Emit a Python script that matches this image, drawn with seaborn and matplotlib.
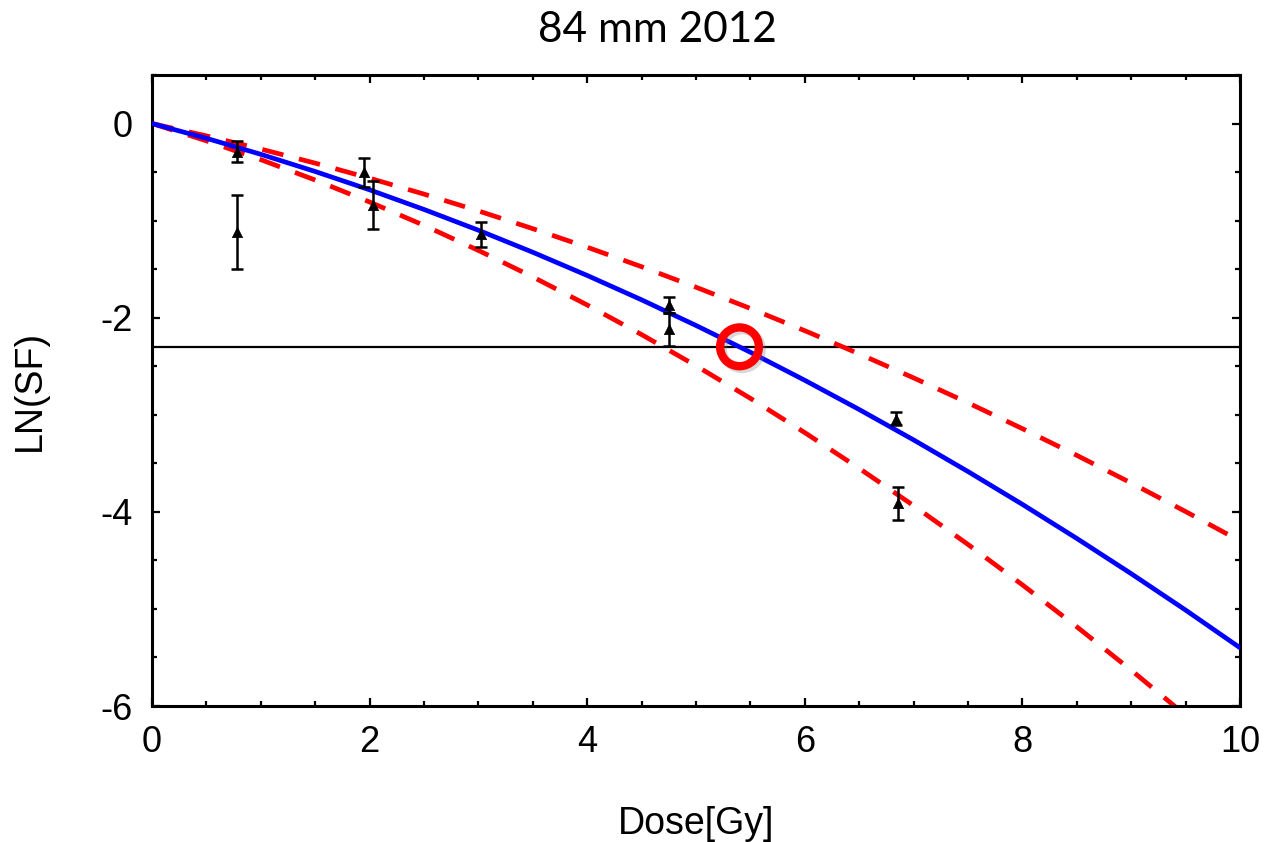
import numpy as np
import pandas as pd
import matplotlib
matplotlib.use("Agg")
import matplotlib.pyplot as plt
import matplotlib.patheffects as pe
from matplotlib.ticker import MultipleLocator
import seaborn as sns

# ---- data ----
dose_grid = [0, 0.5, 1, 1.5, 2, 2.5, 3, 3.5, 4, 4.5, 5, 5.5, 6, 6.5, 7, 7.5, 8, 8.5, 9, 9.5, 10]
fit_mid = [0, -0.152, -0.317, -0.494, -0.683, -0.885, -1.099, -1.326, -1.565, -1.816, -2.080,
           -2.356, -2.645, -2.946, -3.259, -3.585, -3.923, -4.274, -4.637, -5.012, -5.400]
fit_upper = [0, -0.127, -0.263, -0.408, -0.563, -0.727, -0.900, -1.083, -1.274, -1.475, -1.686,
             -1.905, -2.134, -2.373, -2.620, -2.877, -3.143, -3.418, -3.703, -3.997, -4.300]
fit_lower = [0, -0.178, -0.372, -0.582, -0.808, -1.049, -1.307, -1.580, -1.869, -2.174, -2.495,
             -2.831, -3.184, -3.552, -3.936, -4.336, -4.752, -5.184, -5.631, -6.095, -6.574]

pt_dose = [0.78, 0.78, 1.95, 2.03, 3.02, 4.75, 4.75, 6.84, 6.86]
pt_lnsf = [-0.29, -1.12, -0.50, -0.84, -1.14, -1.87, -2.12, -3.04, -3.91]
pt_err = [0.11, 0.38, 0.15, 0.25, 0.13, 0.08, 0.17, 0.07, 0.17]

level = -2.3
mark_dose = [5.4]
mark_lnsf = [-2.3]

title = "84 mm 2012"
xlabel = "Dose[Gy]"
ylabel = "LN(SF)"
xticks = [0, 2, 4, 6, 8, 10]
yticks = [0, -2, -4, -6]

# ---- plotting ----
sns.set_style("ticks")
plt.rcParams["font.family"] = ["Liberation Sans", "DejaVu Sans"]
plt.rcParams["text.color"] = "black"

fig = plt.figure(figsize=(12.64, 8.42), dpi=100)
ax = fig.add_axes([152 / 1264, 1 - 706 / 842, (1240 - 152) / 1264, (706 - 75) / 842])

curves = pd.DataFrame({"dose": dose_grid, "mid": fit_mid, "upper": fit_upper, "lower": fit_lower})

ax.axhline(level, color="black", lw=1.6, zorder=1.5)

sns.lineplot(data=curves, x="dose", y="upper", ax=ax, color="#ff0000", lw=3.4, zorder=2)
sns.lineplot(data=curves, x="dose", y="lower", ax=ax, color="#ff0000", lw=3.4, zorder=2)
for ln in ax.lines[1:3]:
    ln.set_dashes((4.6, 3.4))
sns.lineplot(data=curves, x="dose", y="mid", ax=ax, color="#0000ff", lw=3.4, zorder=3)

ax.errorbar(pt_dose, pt_lnsf, yerr=pt_err, fmt="none", ecolor="black", elinewidth=1.8,
            capsize=4, capthick=1.8, zorder=4)
sns.scatterplot(x=pt_dose, y=pt_lnsf, ax=ax, marker="^", color="black", s=55,
                edgecolor="black", linewidth=0.5, zorder=5)

sc = ax.scatter(mark_dose, mark_lnsf, s=780, facecolors="none", edgecolors="#ff0000",
                linewidths=6, zorder=6)
sc.set_path_effects([pe.SimpleLineShadow(offset=(2, -2), alpha=0.3, shadow_color="gray"),
                     pe.Normal()])

ax.set_xlim(0, 10)
ax.set_ylim(-6, 0.5)
ax.set_xticks(xticks)
ax.set_yticks(yticks)
ax.set_xticklabels([str(t) for t in xticks])
ax.set_yticklabels([str(t) for t in yticks])
ax.xaxis.set_minor_locator(MultipleLocator(0.5))
ax.yaxis.set_minor_locator(MultipleLocator(0.5))
ax.tick_params(which="both", direction="in", top=True, right=True, width=1.6, color="black",
               labelcolor="black")
ax.tick_params(which="major", length=6, labelsize=26, pad=14)
ax.tick_params(axis="y", which="major", pad=14)
ax.tick_params(which="minor", length=3.5)
ax.set_xlabel("")
ax.set_ylabel("")
for s in ax.spines.values():
    s.set_linewidth(2.2)
    s.set_color("black")
    s.set_visible(True)

fig.text(657 / 1264, 1 - 42 / 842, title, ha="center", va="baseline", fontsize=30.5,
         family=["Lato", "DejaVu Sans"], color="black")
fig.text(696 / 1264, 1 - 834 / 842, xlabel, ha="center", va="baseline", fontsize=27, color="black")
fig.text(30 / 1264, 1 - 390 / 842, ylabel, ha="center", va="center", rotation=90, fontsize=27,
         color="black")

fig.savefig("out.png", dpi=100)
